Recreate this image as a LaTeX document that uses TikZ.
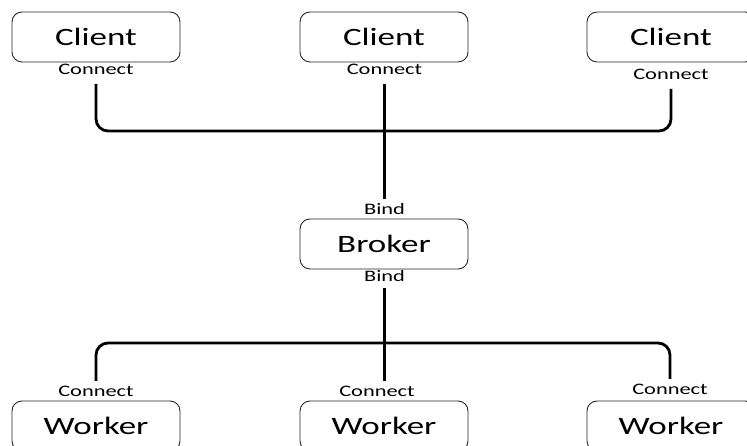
\documentclass[tikz,border=0pt]{standalone}
\usepackage{fontspec}
\setmainfont{Carlito}
\newfontfamily\widefont[FakeStretch=1.4]{Carlito}

\begin{document}
\begin{tikzpicture}[x=1pt,y=1pt,
	box node/.style={rectangle,rounded corners=10pt,draw=black!85,line width=0.9pt,
		minimum width=168pt,minimum height=50pt,font=\widefont\fontsize{25}{30}\selectfont},
	tag node/.style={inner sep=0pt,outer sep=6pt,text height=10pt,text depth=0pt,
		font=\widefont\fontsize{16}{18}\selectfont},
	wire/.style={line width=2.8pt,rounded corners=12pt}]
	\clip (0,0) rectangle (747,446);
	
	% clients along the top
	\node[box node] (c1) at (96,409) {Client};
	\node[box node] (c2) at (384,409) {Client};
	\node[box node] (c3) at (671,409) {Client};
	\node[tag node] (c1c) at (96,376) {Connect};
	\node[tag node] (c2c) at (384.5,376) {Connect};
	\node[tag node] (c3c) at (671,371) {Connect};
	
	% broker in the middle
	\node[box node] (b) at (384,202) {Broker};
	\node[tag node] (ba) at (384.5,236) {Bind};
	\node[tag node] (bb) at (384.5,169) {Bind};
	
	% workers along the bottom
	\node[box node] (w1) at (96,20) {Worker};
	\node[box node] (w2) at (384,20) {Worker};
	\node[box node] (w3) at (671,20) {Worker};
	\node[tag node] (w1c) at (96,54) {Connect};
	\node[tag node] (w2c) at (377,54) {Connect};
	\node[tag node] (w3c) at (670,56) {Connect};
	
	\draw[wire,shorten <=3pt,shorten >=3pt] (c1c) |- (384,315) -| (c3c);
	\draw[wire,shorten <=3pt] (c2c) -- (ba);
	\draw[wire] (bb) -- (bb |- w2c.north);
	\draw[wire] (w1c) |- (384,103) -| (w3c);
\end{tikzpicture}
\end{document}
